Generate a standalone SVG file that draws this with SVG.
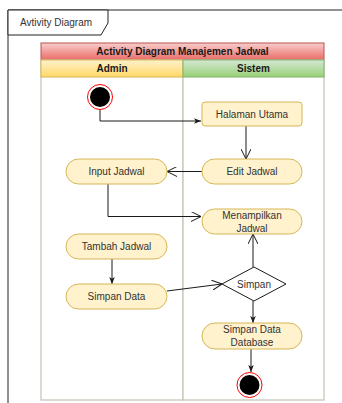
<svg xmlns="http://www.w3.org/2000/svg" width="342" height="403" viewBox="0 0 342 403">
<defs>
<linearGradient id="gRed" x1="0" y1="0" x2="0" y2="1"><stop offset="0" stop-color="#f8cecc"/><stop offset="1" stop-color="#ea6b66"/></linearGradient>
<linearGradient id="gYel" x1="0" y1="0" x2="0" y2="1"><stop offset="0" stop-color="#fff2cc"/><stop offset="1" stop-color="#ffd966"/></linearGradient>
<linearGradient id="gGrn" x1="0" y1="0" x2="0" y2="1"><stop offset="0" stop-color="#d5e8d4"/><stop offset="1" stop-color="#97d077"/></linearGradient>
<marker id="open" viewBox="0 0 10 10" refX="10" refY="5" markerWidth="10" markerHeight="10" markerUnits="userSpaceOnUse" orient="auto"><path d="M0,0 L10,5 L0,10" fill="none" stroke="#1a1a1a" stroke-width="1"/></marker>
<marker id="block" viewBox="0 0 10 10" refX="10" refY="5" markerWidth="7" markerHeight="7" markerUnits="userSpaceOnUse" orient="auto"><path d="M0,1 L10,5 L0,9 L2.5,5 Z" fill="#1a1a1a"/></marker>
</defs>
<style>
text{font-family:"Liberation Sans",Arial,sans-serif;font-size:10px;fill:#333;text-anchor:middle;dominant-baseline:central}
.b{font-weight:bold;fill:#1a1a1a}
.act{fill:#fff2cc;stroke:#d6b656;stroke-width:1}
.lane{fill:#fff;stroke:#c3c8bb;stroke-width:1.3}
.e{fill:none;stroke:#1a1a1a;stroke-width:1}
</style>
<g id="frame">
<path d="M8,10 H342 M8,10 V403" fill="none" stroke="#222" stroke-width="1"/>
<path d="M8,10 H108 V23 L101,35 H8 Z" fill="#fff" stroke="#222" stroke-width="1"/>
<text x="56" y="22.5">Avtivity Diagram</text>
</g>
<g id="pool">
<rect x="41" y="43" width="283" height="17" fill="url(#gRed)" stroke="#b85450" stroke-width="1"/>
<text class="b" x="182.5" y="51.5">Activity Diagram Manajemen Jadwal</text>
<rect class="lane" x="41" y="60" width="142" height="340"/>
<rect class="lane" x="183" y="60" width="141" height="340"/>
<rect x="41" y="60" width="142" height="17" fill="url(#gYel)" stroke="#d6b656" stroke-width="1"/>
<rect x="183" y="60" width="141" height="17" fill="url(#gGrn)" stroke="#82b366" stroke-width="1"/>
<text class="b" x="112" y="68.5">Admin</text>
<text class="b" x="253.5" y="68.5">Sistem</text>
</g>
<g id="connectors">
<path class="e" d="M100,110 V121 H201" marker-end="url(#block)"/>
<path class="e" d="M246,126 V159" marker-end="url(#open)"/>
<path class="e" d="M202,171.5 H167" marker-end="url(#open)"/>
<path class="e" d="M108,184 V216.5 H201" marker-end="url(#open)"/>
<path class="e" d="M112,259 V284" marker-end="url(#block)"/>
<path class="e" d="M167,291 L222,284" marker-end="url(#open)"/>
<path class="e" d="M253,267 V234" marker-end="url(#open)"/>
<path class="e" d="M253,301 V323" marker-end="url(#block)"/>
<path class="e" d="M251,349 V372" marker-end="url(#block)"/>
</g>
<g id="start"><circle cx="100" cy="97" r="12.5" fill="#fff" stroke="#ff0000" stroke-width="1"/><circle cx="100" cy="97" r="10" fill="#000"/></g>
<g id="halaman"><rect class="act" x="202" y="102" width="100" height="24" rx="3"/><text x="252" y="114">Halaman Utama</text></g>
<g id="edit"><rect class="act" x="202" y="159" width="100" height="25" rx="12.5"/><text x="252" y="171.5">Edit Jadwal</text></g>
<g id="input"><rect class="act" x="66" y="159" width="101" height="25" rx="12.5"/><text x="116.5" y="171.5">Input Jadwal</text></g>
<g id="menampilkan"><rect class="act" x="202" y="209" width="100" height="25" rx="12.5"/><text x="252" y="215.5">Menampilkan</text><text x="252" y="228">Jadwal</text></g>
<g id="tambah"><rect class="act" x="66" y="234" width="101" height="25" rx="12.5"/><text x="116.5" y="246.5">Tambah Jadwal</text></g>
<g id="simpandata"><rect class="act" x="66" y="284" width="101" height="25" rx="12.5"/><text x="116.5" y="296.5">Simpan Data</text></g>
<g id="decision"><path d="M254,267 L286,284 L254,301 L222,284 Z" fill="#fff" stroke="#1a1a1a" stroke-width="1"/><text x="254" y="284">Simpan</text></g>
<g id="simpandb"><rect class="act" x="202" y="323" width="100" height="26" rx="13"/><text x="252" y="329.5">Simpan Data</text><text x="252" y="342">Database</text></g>
<g id="end"><circle cx="249.5" cy="385" r="12.5" fill="#fff" stroke="#ff0000" stroke-width="1"/><circle cx="249.5" cy="385" r="10" fill="#000"/></g>
</svg>
